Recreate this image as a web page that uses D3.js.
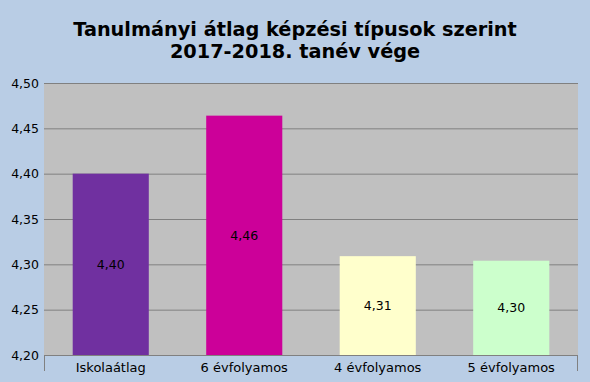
<!DOCTYPE html>
<html>
<head>
<meta charset="utf-8">
<script src="https://cdn.jsdelivr.net/npm/d3@7"></script>
<style>
	body { margin: 0; background: #b9cde5; }
	svg { display: block; font-family: "DejaVu Sans", sans-serif; }
</style>
</head>
<body>
<div id="chart"></div>
<script>
let titleLines = ['Tanulmányi átlag képzési típusok szerint', '2017-2018. tanév vége'];
let categories = ['Iskolaátlag', '6 évfolyamos', '4 évfolyamos', '5 évfolyamos'];
let values     = [4.40, 4.464, 4.309, 4.304];
let labels     = ['4,40', '4,46', '4,31', '4,30'];
let colors     = ['#7030a0', '#cc0099', '#ffffcc', '#ccffcc'];
let yTicks     = [4.20, 4.25, 4.30, 4.35, 4.40, 4.45, 4.50];

let W = 590, H = 382;
let margin = { top: 83, right: 12, bottom: 27, left: 44 };
let width  = W - margin.left - margin.right;
let height = H - margin.top - margin.bottom;

let svg = d3.select('#chart')
	.append('svg')
		.attr('width', W)
		.attr('height', H);

svg.append('rect')
	.attr('width', W).attr('height', H)
	.attr('fill', '#b9cde5');

svg.append('text')
	.attr('x', W / 2)
	.attr('y', 36)
	.attr('text-anchor', 'middle')
	.style('font-size', '19.3px')
	.style('font-weight', 'bold')
	.selectAll('tspan')
	.data(titleLines)
	.join('tspan')
		.attr('x', W / 2)
		.attr('dy', (d, i) => i ? 22 : 0)
		.text((d) => d);

let g = svg.append('g')
	.attr('transform', 'translate(' + margin.left + ',' + margin.top + ')');

let x = d3.scaleBand().domain(categories).range([0, width]).paddingInner(0.43).paddingOuter(0.215);
let y = d3.scaleLinear().domain([4.20, 4.50]).range([height, 0]);

g.append('rect')
	.attr('width', width).attr('height', height)
	.attr('fill', '#c0c0c0');

g.append('g')
	.selectAll('line')
	.data(yTicks)
	.join('line')
		.attr('x1', 0).attr('x2', width)
		.attr('y1', (d) => y(d) + 0.5).attr('y2', (d) => y(d) + 0.5)
		.attr('stroke', '#808080');

let yAxis = d3.axisLeft(y).tickValues(yTicks).tickSize(0).tickPadding(5)
	.tickFormat((d) => d3.format('.2f')(d).replace('.', ','));

g.append('g')
	.call(yAxis)
	.call((a) => a.select('.domain').remove())
	.selectAll('text')
		.style('font-size', '12.5px')
		.style('font-family', '"DejaVu Sans", sans-serif')
		.attr('fill', '#000');

g.append('g')
	.selectAll('rect')
	.data(categories)
	.join('rect')
		.attr('x', (d) => x(d))
		.attr('y', (d, i) => y(values[i]))
		.attr('width', x.bandwidth())
		.attr('height', (d, i) => height - y(values[i]))
		.attr('fill', (d, i) => colors[i]);

g.append('g')
	.selectAll('text')
	.data(categories)
	.join('text')
		.attr('x', (d) => x(d) + x.bandwidth() / 2)
		.attr('y', (d, i) => (y(values[i]) + height) / 2)
		.attr('dy', '0.35em')
		.attr('text-anchor', 'middle')
		.style('font-size', '12.5px')
		.text((d, i) => labels[i]);

let xAxis = d3.axisBottom(x).tickSize(0).tickPadding(8);

g.append('g')
	.attr('transform', 'translate(0,' + height + ')')
	.call(xAxis)
	.call((a) => a.select('.domain').remove())
	.selectAll('text')
		.style('font-size', '13px')
		.style('font-family', '"DejaVu Sans", sans-serif')
		.attr('fill', '#000');

// category axis frame: baseline plus end ticks
g.append('path')
	.attr('d', 'M0.5,' + (height + 16) + 'V' + (height + 0.5) + 'H' + (width - 0.5) + 'V' + (height + 16))
	.attr('fill', 'none')
	.attr('stroke', '#808080');
</script>
</body>
</html>
